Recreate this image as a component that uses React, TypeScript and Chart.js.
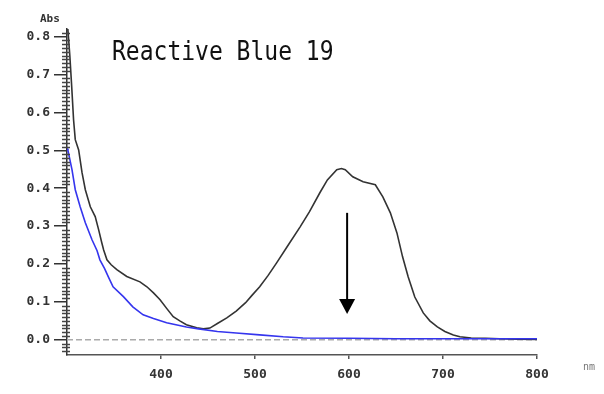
import React, { useEffect, useRef } from "react";
import { Chart, registerables } from "chart.js";

Chart.register(...registerables);

const title = "Reactive Blue 19";
const xAxisUnit = "nm";
const yAxisUnit = "Abs";

const xTickValues = [400, 500, 600, 700, 800];
const yTickValues = [0, 0.1, 0.2, 0.3, 0.4, 0.5, 0.6, 0.7, 0.8];

const blackNm = [
  300, 303, 305, 307, 308.8, 312.4, 316, 319.5, 324.8, 330, 333.7, 337, 339, 342.5, 347, 353, 363.6, 377.6, 385, 392,
  399, 406, 413, 420, 427, 438, 445, 452, 460, 470, 480, 490, 497, 505, 514, 523, 534, 548, 558, 569,
  577, 587, 592, 596, 604, 615, 628, 636, 644, 651, 657, 663, 670, 679, 686, 694, 702, 711, 718, 730,
  745, 760, 780, 800,
];
const blackAbs = [
  0.85, 0.75, 0.668, 0.58, 0.528, 0.501, 0.441, 0.396, 0.351, 0.325, 0.29, 0.256, 0.237, 0.211, 0.198, 0.185, 0.167, 0.153, 0.14, 0.124,
  0.106, 0.083, 0.061, 0.05, 0.04, 0.032, 0.029, 0.031, 0.043, 0.058, 0.076, 0.098, 0.118, 0.14, 0.17, 0.203, 0.245, 0.298, 0.338, 0.388,
  0.422, 0.449, 0.452, 0.449, 0.43, 0.417, 0.409, 0.377, 0.335, 0.282, 0.219, 0.166, 0.113, 0.071, 0.05, 0.034, 0.022, 0.013, 0.008, 0.005,
  0.004, 0.003, 0.002, 0.001,
];

const blueNm = [
  300, 301, 305.3, 308.8, 314, 319.5, 326.6, 332, 335, 340, 344, 349, 360, 370, 381, 392, 406, 427, 440, 460,
  480, 505, 530, 551, 600, 650, 700, 750, 800,
];
const blueAbs = [
  0.505, 0.5, 0.449, 0.396, 0.351, 0.309, 0.264, 0.235, 0.211, 0.188, 0.166, 0.14, 0.114, 0.087, 0.066, 0.056, 0.045, 0.034, 0.029, 0.022,
  0.018, 0.013, 0.008, 0.005, 0.004, 0.003, 0.003, 0.003, 0.003,
];

const baselineNm = [300, 800];
const baselineAbs = [0, 0];

const arrowNm = 598;
const arrowFrom = 0.335;
const arrowTo = 0.068;

const toPoints = (xs: number[], ys: number[]) => xs.map((x, i) => ({ x, y: ys[i] }));

const decorPlugin = {
  id: "decor",
  afterDraw(chart: any) {
    const { ctx, chartArea } = chart;
    const xs = chart.scales.x;
    const ys = chart.scales.y;
    ctx.save();
    // minor ticks on y axis
    ctx.strokeStyle = "#444";
    ctx.lineWidth = 1.5;
    for (let i = -3; i <= 81; i++) {
      if (i % 10 === 0) continue;
      const py = Math.round(ys.getPixelForValue(i / 100)) + 0.5;
      ctx.beginPath();
      ctx.moveTo(chartArea.left - 5, py);
      ctx.lineTo(chartArea.left + 3, py);
      ctx.stroke();
    }
    // arrow
    const ax = xs.getPixelForValue(arrowNm);
    const ay1 = ys.getPixelForValue(arrowFrom);
    const ay2 = ys.getPixelForValue(arrowTo);
    ctx.strokeStyle = "#000";
    ctx.fillStyle = "#000";
    ctx.lineWidth = 2;
    ctx.beginPath();
    ctx.moveTo(ax, ay1);
    ctx.lineTo(ax, ay2 - 12);
    ctx.stroke();
    ctx.beginPath();
    ctx.moveTo(ax - 8, ay2 - 15);
    ctx.lineTo(ax + 8, ay2 - 15);
    ctx.lineTo(ax, ay2);
    ctx.closePath();
    ctx.fill();
    // title
    ctx.fillStyle = "#111";
    ctx.font = "23px 'DejaVu Sans Mono'";
    ctx.textAlign = "left";
    ctx.textBaseline = "alphabetic";
    ctx.translate(112, 60);
    ctx.scale(1, 1.17);
    ctx.fillText(title, 0, 0);
    ctx.restore();
    ctx.save();
    // axis units
    ctx.fillStyle = "#333";
    ctx.font = "bold 11px 'DejaVu Sans Mono'";
    ctx.textAlign = "left";
    ctx.textBaseline = "alphabetic";
    ctx.fillText(yAxisUnit, 40, 22);
    ctx.fillStyle = "#777";
    ctx.font = "10px 'DejaVu Sans Mono'";
    ctx.fillText(xAxisUnit, 583, 370);
    ctx.restore();
  },
};

export default function App() {
  const ref = useRef<HTMLCanvasElement>(null);
  useEffect(() => {
    if (!ref.current) return;
    const chart = new Chart(ref.current, {
      type: "line",
      data: {
        datasets: [
          {
            data: toPoints(blueNm, blueAbs),
            borderColor: "#3535ee",
            borderWidth: 1.6,
            pointRadius: 0,
            tension: 0,
          },
          {
            data: toPoints(blackNm, blackAbs),
            borderColor: "#333",
            borderWidth: 1.6,
            pointRadius: 0,
            tension: 0,
          },
          {
            data: toPoints(baselineNm, baselineAbs),
            borderColor: "#aaa",
            borderWidth: 1.5,
            borderDash: [6, 3],
            pointRadius: 0,
            tension: 0,
          },
        ],
      },
      options: {
        animation: false,
        responsive: false,
        layout: { padding: { left: 0, right: 67, top: 29, bottom: 0 } },
        plugins: { legend: { display: false }, tooltip: { enabled: false }, title: { display: false } },
        scales: {
          x: {
            type: "linear",
            min: 300,
            max: 800,
            afterBuildTicks: (s: any) => {
              s.ticks = xTickValues.map((v) => ({ value: v }));
            },
            afterFit: (s: any) => {
              s.height = 39;
            },
            grid: { drawOnChartArea: false, drawTicks: true, tickLength: 4, color: "#555", lineWidth: 1.5 },
            border: { display: true, color: "#555", width: 1.5 },
            ticks: {
              padding: 8,
              color: "#333",
              font: { family: "'DejaVu Sans Mono'", size: 13, weight: "bold" },
              maxRotation: 0,
              callback: (v: any) => String(v),
            },
          },
          y: {
            type: "linear",
            min: -0.04,
            max: 0.82,
            afterBuildTicks: (s: any) => {
              s.ticks = yTickValues.map((v) => ({ value: v }));
            },
            afterFit: (s: any) => {
              s.width = 67;
            },
            grid: { drawOnChartArea: false, drawTicks: true, tickLength: 13, color: "#333", lineWidth: 1.5 },
            border: { display: true, color: "#333", width: 1.5 },
            ticks: {
              padding: 4,
              color: "#333",
              font: { family: "'DejaVu Sans Mono'", size: 13, weight: "bold" },
              callback: (v: any) => Number(v).toFixed(1),
            },
          },
        },
      },
      plugins: [decorPlugin],
    });
    return () => chart.destroy();
  }, []);
  return (
    <div style={{ position: "absolute", left: 0, top: 0, width: 604, height: 394, background: "#fff" }}>
      <canvas ref={ref} width={604} height={394} />
    </div>
  );
}
